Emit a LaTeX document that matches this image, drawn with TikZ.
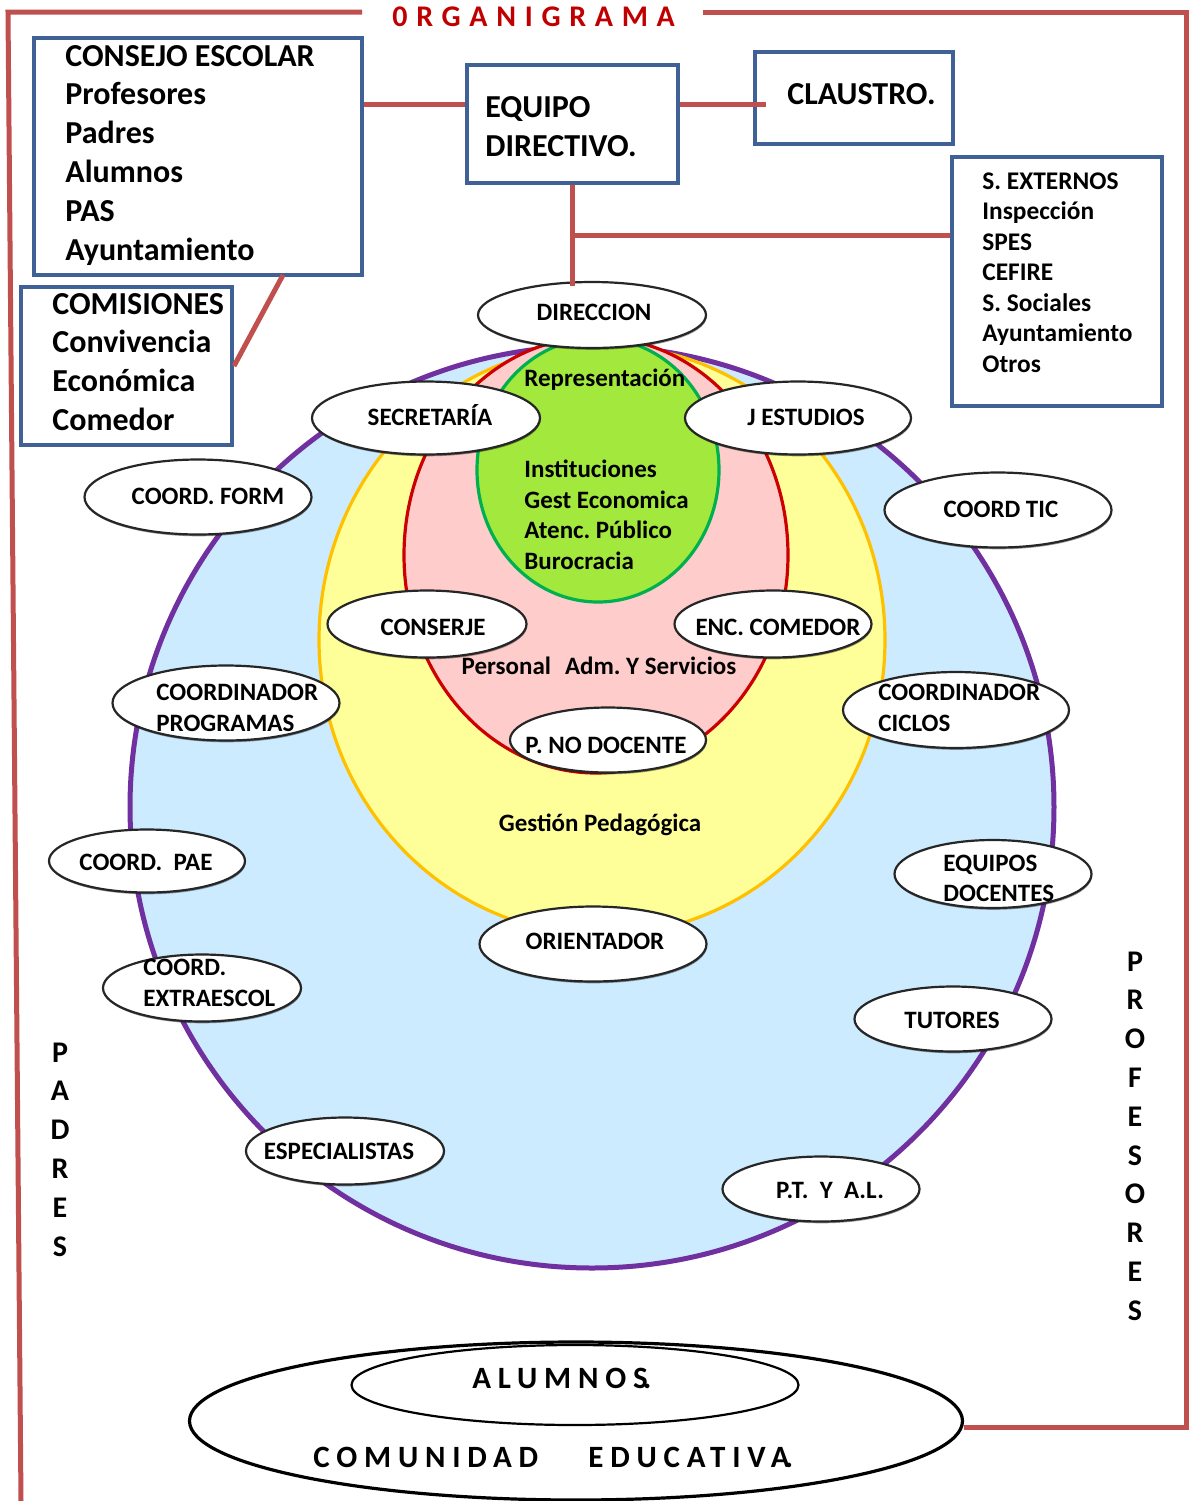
\documentclass[tikz,border=0pt]{standalone}
\usepackage{fontspec}
\setmainfont{Carlito}
\newfontfamily\trackA[LetterSpace=29]{Carlito}
\newfontfamily\trackB[LetterSpace=22]{Carlito}
\usetikzlibrary{shapes.geometric,shadows,calc}
\definecolor{framered}{HTML}{C0504D}
\definecolor{boxblue}{HTML}{3F6195}
\definecolor{titlered}{HTML}{C00000}
\definecolor{cblue}{HTML}{CCEBFF}
\definecolor{cpurple}{HTML}{7030A0}
\definecolor{cyellow}{HTML}{FFFF99}
\definecolor{corange}{HTML}{FFC000}
\definecolor{cpink}{HTML}{FFCCCC}
\definecolor{cred}{HTML}{CC0000}
\definecolor{cgreen}{HTML}{A3E83C}
\definecolor{cgreenb}{HTML}{00B050}
\frenchspacing
\begin{document}
\begin{tikzpicture}[x=0.5pt,y=-0.5pt,
  redline/.style={draw=framered, line width=2.5pt},
  bbox/.style 2 args={rectangle, draw=boxblue, line width=2pt, fill=white, minimum width=#1*0.5pt, minimum height=#2*0.5pt, inner sep=0},
  nell/.style 2 args={ellipse, draw=black!85, line width=1.1pt, fill=white, minimum width=#1*0.5pt, minimum height=#2*0.5pt, inner sep=0,
     drop shadow={shadow xshift=0.3pt, shadow yshift=-0.9pt, opacity=0.4, fill=black}},
  lab/.style={inner sep=0, anchor=base, font=\fontsize{12.5}{15}\selectfont\bfseries},
  labw/.style={lab, anchor=base west},
  big/.style={inner sep=0, anchor=base west, font=\fontsize{16}{19}\selectfont\bfseries},
  mid/.style={inner sep=0, anchor=base west, font=\fontsize{12.7}{15}\selectfont\bfseries},
  vlet/.style={inner sep=0, anchor=base, font=\fontsize{15}{18}\selectfont\bfseries},
  spaced/.style={inner sep=0, anchor=base west, font=\trackB\bfseries\fontsize{15.5}{18}\selectfont}
]
\useasboundingbox (0,0) rectangle (1190,1501);

% nested circles
\filldraw[fill=cblue, draw=cpurple, line width=2.5pt] (592,807) ellipse [x radius=462, y radius=461];
\filldraw[fill=cyellow, draw=corange, line width=1.6pt] (602,640) ellipse [x radius=283, y radius=295];
\filldraw[fill=cpink, draw=cred, line width=1.6pt] (596,555) ellipse [x radius=192, y radius=218];
\filldraw[fill=cgreen, draw=cgreenb, line width=1.6pt] (598,470) ellipse [x radius=121, y radius=132];

% ellipse nodes
\node[nell={228}{66}] (dir) at (592,315) {};
\node[nell={228}{73}] (sec) at (426,418) {};
\node[nell={226}{73}] (jes) at (798,418) {};
\node[nell={227}{75}] (cform) at (198,497) {};
\node[nell={227}{75}] (ctic) at (998,510) {};
\node[nell={199}{67}] (conse) at (427,624) {};
\node[nell={197}{67}] (encom) at (773,624) {};
\node[nell={227}{75}] (cprog) at (226,703) {};
\node[nell={226}{76}] (cciclos) at (956,710) {};
\node[nell={196}{65}] (pnodoc) at (608,740) {};
\node[nell={196}{63}] (cpae) at (147,861) {};
\node[nell={197}{68}] (eqdoc) at (993,874) {};
\node[nell={227}{75}] (orient) at (593,944) {};
\node[nell={198}{67}] (cextra) at (202,988) {};
\node[nell={197}{65}] (tutores) at (953,1019) {};
\node[nell={198}{67}] (espec) at (345,1151) {};
\node[nell={197}{65}] (ptal) at (821,1189) {};

% labels
\node[lab] (dirT) at (594,320) {DIRECCION};
\node[lab] (secT) at (430,425) {SECRETARÍA};
\node[lab] (jesT) at (806,425) {J ESTUDIOS};
\node[lab] (cformT) at (208,504) {COORD. FORM};
\node[lab] (cticT) at (1001,517) {COORD TIC};
\node[lab] (conseT) at (433,635) {CONSERJE};
\node[lab] (encomT) at (778,635) {ENC. COMEDOR};
\node[lab] (persT) at (599,674) {Personal\hspace{7pt}Adm. Y Servicios};
\node[labw] (cprogA) at (156,700) {COORDINADOR};
\node[labw] (cprogB) at (156,731) {PROGRAMAS};
\node[labw] (ccicA) at (878,700) {COORDINADOR};
\node[labw] (ccicB) at (878,731) {CICLOS};
\node[lab] (pnodocT) at (606,753) {P. NO DOCENTE};
\node[lab] (gestT) at (600,831) {Gestión Pedagógica};
\node[lab] (cpaeT) at (146,870) {COORD.\ \ PAE};
\node[labw] (eqdocA) at (943,871) {EQUIPOS};
\node[labw] (eqdocB) at (943,901) {DOCENTES};
\node[lab] (orientT) at (595,949) {ORIENTADOR};
\node[labw] (cextraA) at (143,975) {COORD.};
\node[labw] (cextraB) at (143,1006) {EXTRAESCOL};
\node[lab] (tutT) at (952,1028) {TUTORES};
\node[lab] (espT) at (339,1159) {ESPECIALISTAS};
\node[lab] (ptT) at (830,1198) {P.T.\ \ Y\ \ A.L.};
\node[labw] (repT) at (524,386) {Representación};
\node[labw] (insT) at (524,477) {Instituciones};
\node[labw] (gecT) at (524,508) {Gest Economica};
\node[labw] (ateT) at (524,538) {Atenc. Público};
\node[labw] (burT) at (524,569) {Burocracia};

% vertical words
\foreach \l [count=\i] in {P,A,D,R,E,S}
  \node[vlet] (pad\i) at (60,{1062+38.8*(\i-1)}) {\l};
\foreach \l [count=\i] in {P,R,O,F,E,S,O,R,E,S}
  \node[vlet] (prof\i) at (1135,{971+38.8*(\i-1)}) {\l};

% bottom ellipses
\node[ellipse, draw=black, line width=1.6pt, fill=white, minimum width=386.5pt, minimum height=79pt, inner sep=0] (comu) at (576,1421) {};
\node[ellipse, draw=black, line width=1.1pt, fill=white, minimum width=223.5pt, minimum height=40pt, inner sep=0] (alum) at (575,1385) {};
\node[spaced] (alumT) at (472,1388) {ALUMNOS\kern-2.4pt.};
\node[spaced] (comuA) at (313,1467) {COMUNIDAD};
\node[spaced] (comuB) at (588,1467) {EDUCATIVA\kern-2.4pt.};

% title
\node[inner sep=0, anchor=base west, text=titlered, font=\trackA\bfseries\fontsize{15}{18}\selectfont] (title) at (392,26) {0RGANIGRAMA};

% boxes
\node[bbox={328}{237}] (ce) at (198,156.5) {};
\node[bbox={211}{158}] (com) at (126.5,366) {};
\node[bbox={211}{118}] (eq) at (572.5,124) {};
\node[bbox={198}{92}] (cl) at (854,98) {};
\node[bbox={210}{249}] (sext) at (1057,281.5) {};

\foreach \t [count=\i] in {CONSEJO ESCOLAR, Profesores, Padres, Alumnos, PAS, Ayuntamiento}
  \node[big] (ceT\i) at (65,{66+38.8*(\i-1)}) {\t};
\foreach \t [count=\i] in {COMISIONES, Convivencia, Económica, Comedor}
  \node[big] (comT\i) at (52,{314+38.7*(\i-1)}) {\t};
\node[big] (eqA) at (485,117) {EQUIPO};
\node[big] (eqB) at (485,156) {DIRECTIVO.};
\node[big] (clT) at (787,104) {CLAUSTRO.};
\foreach \t [count=\i] in {S. EXTERNOS, Inspección, SPES, CEFIRE, S. Sociales, Ayuntamiento, Otros}
  \node[mid] (sxT\i) at (982,{189+30.5*(\i-1)}) {\t};

% frame
\draw[redline] (362,12) -- (8,12) -- (21,1501);
\coordinate (frc) at (1186,1427);
\draw[redline] (703,12) -- (1186,12) -- (frc) -- (frc -| comu.east);

% connectors
\coordinate (lk) at (0,104);
\draw[redline] (ce.east |- lk) -- (eq.west |- lk);
\draw[redline] (eq.east |- lk) -- ($(cl.west |- lk)+(13,0)$);
\draw[redline] (eq.south) -- ($(eq.south |- dir.north)+(0,5)$);
\coordinate (br) at (572,235);
\draw[redline] (br) -- (br -| sext.west);
\coordinate (c1) at (283,275);
\draw[redline] (c1) -- (com.east);
\end{tikzpicture}
\end{document}
